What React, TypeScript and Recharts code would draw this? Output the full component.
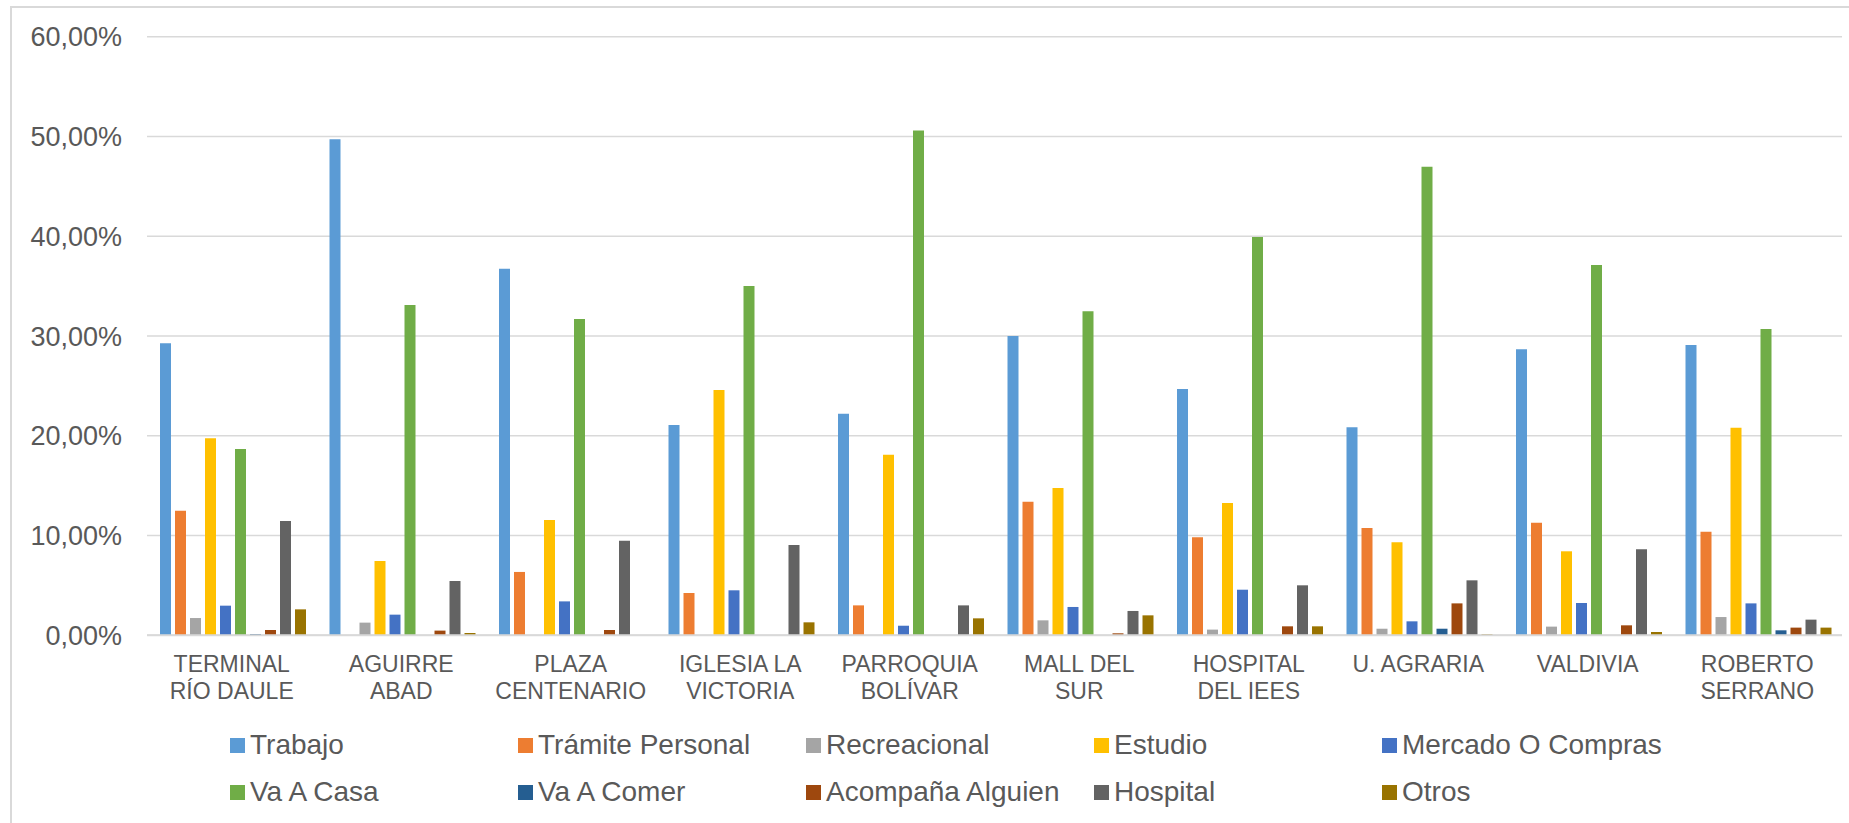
import { BarChart, Bar, XAxis, YAxis, CartesianGrid } from 'recharts';

const categories = [
  'TERMINAL\nRÍO DAULE',
  'AGUIRRE\nABAD',
  'PLAZA\nCENTENARIO',
  'IGLESIA LA\nVICTORIA',
  'PARROQUIA\nBOLÍVAR',
  'MALL DEL\nSUR',
  'HOSPITAL\nDEL IEES',
  'U. AGRARIA',
  'VALDIVIA',
  'ROBERTO\nSERRANO',
];

const trabajo = [29.27, 49.71, 36.75, 21.08, 22.21, 30.0, 24.69, 20.85, 28.67, 29.1];
const tramitePersonal = [12.49, 0, 6.35, 4.24, 3.0, 13.39, 9.82, 10.75, 11.29, 10.39];
const recreacional = [1.73, 1.27, 0, 0, 0, 1.5, 0.57, 0.66, 0.87, 1.83];
const estudio = [19.74, 7.45, 11.56, 24.59, 18.1, 14.76, 13.26, 9.32, 8.42, 20.81];
const mercadoOCompras = [2.97, 2.07, 3.4, 4.51, 0.96, 2.84, 4.57, 1.4, 3.24, 3.2];
const vaACasa = [18.67, 33.1, 31.7, 35.01, 50.6, 32.47, 39.92, 46.97, 37.12, 30.7];
const vaAComer = [0.13, 0, 0, 0, 0, 0, 0, 0.66, 0, 0.5];
const acompanaAlguien = [0.53, 0.47, 0.53, 0, 0, 0.2, 0.9, 3.2, 1.0, 0.77];
const hospital = [11.46, 5.44, 9.48, 9.05, 3.0, 2.44, 5.01, 5.51, 8.62, 1.57];
const otros = [2.6, 0.23, 0, 1.3, 1.7, 2.0, 0.9, 0.1, 0.33, 0.77];

const yTicks = [0, 10, 20, 30, 40, 50, 60];

const series = [
  { key: 'trabajo', name: 'Trabajo', values: trabajo, color: '#5B9BD5' },
  { key: 'tramite', name: 'Trámite Personal', values: tramitePersonal, color: '#ED7D31' },
  { key: 'recreacional', name: 'Recreacional', values: recreacional, color: '#A5A5A5' },
  { key: 'estudio', name: 'Estudio', values: estudio, color: '#FFC000' },
  { key: 'mercado', name: 'Mercado O Compras', values: mercadoOCompras, color: '#4472C4' },
  { key: 'casa', name: 'Va A Casa', values: vaACasa, color: '#70AD47' },
  { key: 'comer', name: 'Va A Comer', values: vaAComer, color: '#255E91' },
  { key: 'acompana', name: 'Acompaña Alguien', values: acompanaAlguien, color: '#9E480E' },
  { key: 'hospital', name: 'Hospital', values: hospital, color: '#636363' },
  { key: 'otros', name: 'Otros', values: otros, color: '#997300' },
];

const data = categories.map((cat, i) => {
  const row: Record<string, string | number> = { cat };
  series.forEach((s) => {
    row[s.key] = s.values[i];
  });
  return row;
});

const FONT = '"Liberation Sans", Arial, sans-serif';
const TEXT = '#595959';
const GRID = '#D9D9D9';

function CategoryTick({ x, y, payload }: any) {
  const lines = String(payload.value).split('\n');
  return (
    <text x={x} y={y} textAnchor="middle" fill={TEXT} fontSize={23} fontFamily={FONT}>
      {lines.map((line, i) => (
        <tspan key={i} x={x} dy={i === 0 ? 36.4 : 27.5}>
          {line}
        </tspan>
      ))}
    </text>
  );
}

const fmt = (v: number) => `${v.toFixed(2).replace('.', ',')}%`;

export default function App() {
  return (
    <div style={{ position: 'relative', width: 1849, height: 823, overflow: 'hidden', background: '#fff', fontFamily: FONT }}>
      <style>{'body{margin:0}'}</style>
      <div
        style={{
          position: 'absolute',
          left: 10,
          top: 6,
          width: 1900,
          height: 900,
          border: `2px solid ${GRID}`,
          boxSizing: 'border-box',
        }}
      />
      <div style={{ position: 'absolute', left: 0, top: 0 }}>
        <BarChart
          width={1849}
          height={823}
          data={data}
          margin={{ top: 36.7, right: 7, bottom: 107.7, left: 0 }}
          barCategoryGap={13}
          barGap={4}
        >
          <CartesianGrid vertical={false} stroke={GRID} strokeWidth={1.5} />
          <YAxis
            width={147}
            domain={[0, 60]}
            ticks={yTicks}
            tickFormatter={fmt}
            axisLine={false}
            tickLine={false}
            tickSize={0}
            tickMargin={25}
            interval={0}
            tick={{ fill: TEXT, fontSize: 27, fontFamily: FONT }}
          />
          <XAxis
            dataKey="cat"
            height={80}
            interval={0}
            axisLine={{ stroke: GRID, strokeWidth: 2 }}
            tickLine={false}
            tickSize={0}
            tickMargin={0}
            tick={<CategoryTick />}
          />
          {series.map((s) => (
            <Bar key={s.key} dataKey={s.key} name={s.name} fill={s.color} isAnimationActive={false} />
          ))}
        </BarChart>
      </div>
      {series.map((s, i) => {
        const col = i % 5;
        const row = Math.floor(i / 5);
        return (
          <div
            key={s.key}
            style={{
              position: 'absolute',
              left: 230 + col * 288,
              top: row === 0 ? 731.3 : 778,
              display: 'flex',
              alignItems: 'center',
              height: 28,
              whiteSpace: 'nowrap',
            }}
          >
            <span style={{ display: 'inline-block', width: 15, height: 15, background: s.color, marginRight: 5 }} />
            <span style={{ fontSize: 28, lineHeight: '28px', color: TEXT }}>{s.name}</span>
          </div>
        );
      })}
    </div>
  );
}
